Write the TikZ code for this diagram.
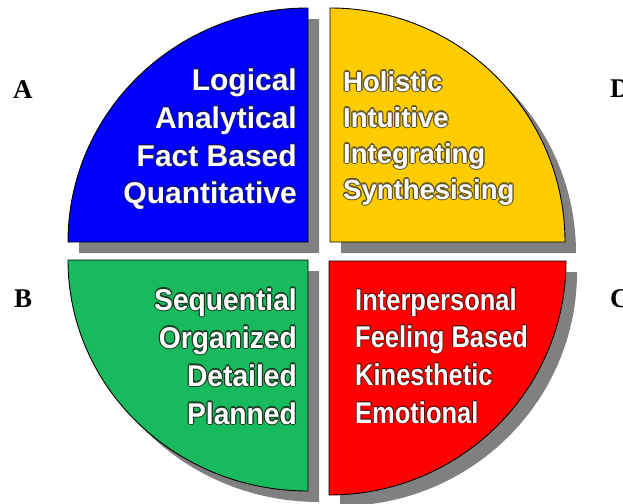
\documentclass[tikz,border=0pt]{standalone}
\usepackage{fontspec}
\setmainfont{Liberation Sans}
\newfontfamily\labfont{Liberation Serif}
\newfontfamily\narrowA[FakeStretch=0.85]{Liberation Sans}
\newfontfamily\narrowB[FakeStretch=0.94]{Liberation Sans}
\definecolor{qblue}{RGB}{0,0,250}
\definecolor{qyellow}{RGB}{255,204,0}
\definecolor{qgreen}{RGB}{24,186,94}
\definecolor{qred}{RGB}{255,0,0}
\definecolor{shadowgray}{RGB}{128,128,128}
\definecolor{bluedark}{RGB}{20,20,90}
\definecolor{yeldark}{RGB}{95,85,40}
\definecolor{greendark}{RGB}{25,60,35}
\definecolor{reddark}{RGB}{90,10,10}
\newdimen\oltd
\newdimen\oltdd
\newcommand\olt[3]{%
 \oltd=#2\relax\oltdd=0.7\oltd
 \leavevmode\rlap{\color{#1}%
  \rlap{\kern\oltd\hbox{#3}}%
  \rlap{\kern-\oltd\hbox{#3}}%
  \rlap{\raise\oltd\hbox{#3}}%
  \rlap{\lower\oltd\hbox{#3}}%
  \rlap{\kern\oltdd\raise\oltdd\hbox{#3}}%
  \rlap{\kern\oltdd\lower\oltdd\hbox{#3}}%
  \rlap{\kern-\oltdd\raise\oltdd\hbox{#3}}%
  \rlap{\kern-\oltdd\lower\oltdd\hbox{#3}}}%
 #3}
\tikzset{
  shadowq/.style={fill=shadowgray, draw=none},
  quad/.style={draw=black, line width=0.9pt},
  txt/.style={inner sep=0pt, text=white},
  bluetxt/.style={txt, anchor=base east, font=\bfseries\fontsize{30}{36}\selectfont},
  yeltxt/.style={txt, anchor=base west, font=\bfseries\fontsize{27.5}{33}\selectfont},
  greentxt/.style={txt, anchor=base east, font=\narrowB\bfseries\fontsize{30}{36}\selectfont},
  redtxt/.style={txt, anchor=base west, font=\narrowA\bfseries\fontsize{30}{36}\selectfont},
  lab/.style={inner sep=0pt, anchor=base west, font=\labfont\bfseries\fontsize{27}{30}\selectfont}
}
\begin{document}
\begin{tikzpicture}[x=1pt, y=-1pt]
\useasboundingbox[fill=white] (0,0) rectangle (623,503);
% shadows
\begin{scope}[shift={(11,11)}]
 \fill[shadowq] (68,242) arc[start angle=180, end angle=270, x radius=240, y radius=234] -- (308,242) -- cycle;
 \fill[shadowq] (330,8) arc[start angle=270, end angle=360, x radius=235, y radius=234] -- (330,242) -- cycle;
 \fill[shadowq] (308,260) -- (68,260) arc[start angle=180, end angle=90, x radius=240, y radius=231] -- cycle;
 \fill[shadowq] (329,261) -- (566,261) arc[start angle=0, end angle=90, x radius=237, y radius=234] -- cycle;
\end{scope}
% quadrants
\draw[quad, fill=qblue] (68,242) arc[start angle=180, end angle=270, x radius=240, y radius=234] -- (308,242) -- cycle;
\draw[quad, fill=qyellow] (330,8) arc[start angle=270, end angle=360, x radius=235, y radius=234] -- (330,242) -- cycle;
\draw[quad, fill=qgreen] (308,260) -- (68,260) arc[start angle=180, end angle=90, x radius=240, y radius=231] -- cycle;
\draw[quad, fill=qred] (329,261) -- (566,261) arc[start angle=0, end angle=90, x radius=237, y radius=234] -- cycle;
% blue text
\node[bluetxt] (a1) at (297,90) {\olt{bluedark}{0.7pt}{Logical}};
\node[bluetxt] (a2) at (297,128) {\olt{bluedark}{0.7pt}{Analytical}};
\node[bluetxt] (a3) at (297,166) {\olt{bluedark}{0.7pt}{Fact Based}};
\node[bluetxt] (a4) at (297,203) {\olt{bluedark}{0.7pt}{Quantitative}};
% yellow text
\node[yeltxt] (d1) at (343,91) {\olt{yeldark}{1.3pt}{Holistic}};
\node[yeltxt] (d2) at (343,127) {\olt{yeldark}{1.3pt}{Intuitive}};
\node[yeltxt] (d3) at (343,163) {\olt{yeldark}{1.3pt}{Integrating}};
\node[yeltxt] (d4) at (343,199) {\olt{yeldark}{1.3pt}{Synthesising}};
% green text
\node[greentxt] (b1) at (297,310) {\olt{greendark}{1.2pt}{Sequential}};
\node[greentxt] (b2) at (297,348) {\olt{greendark}{1.2pt}{Organized}};
\node[greentxt] (b3) at (297,386) {\olt{greendark}{1.2pt}{Detailed}};
\node[greentxt] (b4) at (297,424) {\olt{greendark}{1.2pt}{Planned}};
% red text
\node[redtxt] (c1) at (355,310) {\olt{reddark}{0.8pt}{Interpersonal}};
\node[redtxt] (c2) at (355,347) {\olt{reddark}{0.8pt}{Feeling Based}};
\node[redtxt] (c3) at (355,385) {\olt{reddark}{0.8pt}{Kinesthetic}};
\node[redtxt] (c4) at (355,423) {\olt{reddark}{0.8pt}{Emotional}};
% letters
\node[lab] (la) at (13,98) {A};
\node[lab] (lb) at (14,307) {B};
\node[lab] (lc) at (610,307) {C};
\node[lab] (ld) at (610,97) {D};
\end{tikzpicture}
\end{document}
